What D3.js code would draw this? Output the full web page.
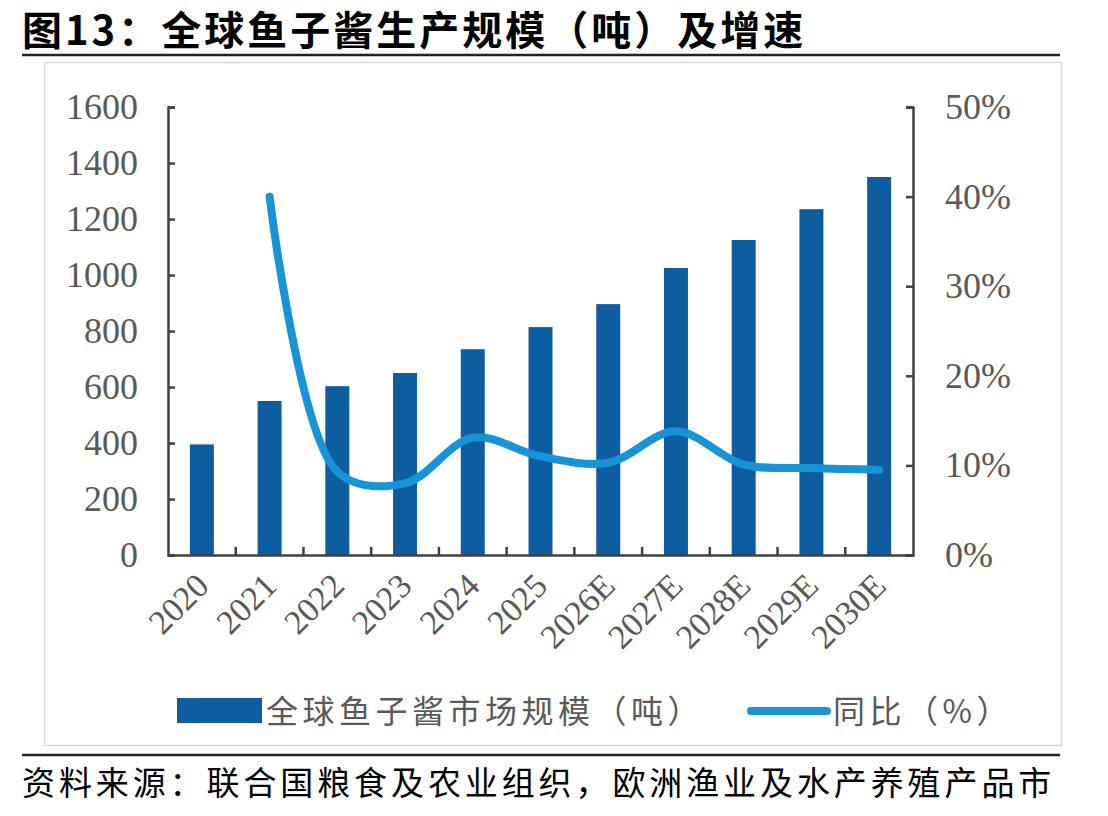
<!DOCTYPE html>
<html><head><meta charset="utf-8">
<script src="https://cdn.jsdelivr.net/npm/d3@7"></script>
<style>body{margin:0;background:#fff;} svg{display:block;}</style>
</head><body>
<script>
const categories = ["2020","2021","2022","2023","2024","2025","2026E","2027E","2028E","2029E","2030E"];
const marketSize = [395, 550, 603, 650, 735, 814, 896, 1025, 1125, 1235, 1350];
const yoyGrowth = [null, 40.0, 9.3, 8.0, 13.1, 11.0, 10.3, 13.8, 10.1, 9.7, 9.5];
const leftTicks = [0,200,400,600,800,1000,1200,1400,1600];
const rightTicks = [0,10,20,30,40,50];
const titleText = "图13：全球鱼子酱生产规模（吨）及增速";
const legendBar = "全球鱼子酱市场规模（吨）";
const legendLine = "同比（%）";
const sourceText = "资料来源：联合国粮食及农业组织，欧洲渔业及水产养殖产品市";

const W=1108,H=816;
const svg=d3.select("body").append("svg").attr("width",W).attr("height",H);
const plot={l:168,r:913,t:107,b:555};
const x=d3.scaleBand().domain(categories).range([plot.l,plot.r]).paddingInner(0).paddingOuter(0);
const yL=d3.scaleLinear().domain([0,1600]).range([plot.b,plot.t]);
const yR=d3.scaleLinear().domain([0,50]).range([plot.b,plot.t]);
const axisColor="#404040", textColor="#595959";
const barColor="#0f5da1", lineColor="#1793d8";
const serif="'Liberation Serif','Times New Roman',serif";
const cjk="'Noto Sans CJK SC',sans-serif";

// title
svg.append("text").attr("x",22).attr("y",45).attr("font-family",cjk).attr("font-weight",700)
  .attr("font-size",40).attr("letter-spacing",3).attr("fill","#000").text(titleText);
svg.append("line").attr("x1",22).attr("x2",1060).attr("y1",55).attr("y2",55).attr("stroke","#222").attr("stroke-width",2.5);
// frame
svg.append("rect").attr("x",44.5).attr("y",62.5).attr("width",1017).attr("height",683).attr("fill","none").attr("stroke","#d9d9d9").attr("stroke-width",1.5);
svg.append("line").attr("x1",22).attr("x2",1060).attr("y1",755).attr("y2",755).attr("stroke","#222").attr("stroke-width",2.5);
svg.append("text").attr("x",22).attr("y",795).attr("font-family",cjk).attr("font-size",33).attr("letter-spacing",3.9).attr("fill","#000").text(sourceText);

// bars
const bw=24;
svg.append("g").selectAll("rect").data(marketSize).join("rect")
  .attr("x",(d,i)=>x(categories[i])+x.bandwidth()/2-bw/2).attr("width",bw)
  .attr("y",d=>yL(d)).attr("height",d=>yL(0)-yL(d)).attr("fill",barColor);

// axes
const gL=svg.append("g").attr("transform",`translate(${plot.l},0)`)
  .call(d3.axisLeft(yL).tickValues(leftTicks).tickSize(-7).tickPadding(30).tickFormat(d3.format("d")));
const gR=svg.append("g").attr("transform",`translate(${plot.r},0)`)
  .call(d3.axisRight(yR).tickValues(rightTicks).tickSize(-7).tickPadding(32).tickFormat(d=>d+"%"));
const gX=svg.append("g").attr("transform",`translate(0,${plot.b})`)
  .call(d3.axisBottom(x).tickSize(0).tickFormat(""));
[gL,gR,gX].forEach(g=>{g.select(".domain").attr("stroke",axisColor).attr("stroke-width",2.5);
  g.selectAll(".tick line").attr("stroke",axisColor).attr("stroke-width",2.5);
  g.selectAll("text").attr("font-family",serif).attr("font-size",36).attr("fill",textColor);});
// category boundary ticks
svg.append("g").selectAll("line").data(categories.slice(1)).join("line")
  .attr("x1",d=>x(d)).attr("x2",d=>x(d)).attr("y1",plot.b).attr("y2",plot.b-8)
  .attr("stroke",axisColor).attr("stroke-width",2.5);
// x labels
svg.append("g").selectAll("text").data(categories).join("text")
  .attr("transform",d=>`translate(${x(d)+x.bandwidth()/2-8},${plot.b+16}) rotate(-45)`)
  .attr("text-anchor","end").attr("dy","0.7em").attr("font-family",serif).attr("font-size",34).attr("fill",textColor).text(d=>d);

// line
const pts=yoyGrowth.map((v,i)=>({c:categories[i],v})).filter(p=>p.v!=null);
svg.append("path").datum(pts).attr("fill","none").attr("stroke",lineColor).attr("stroke-width",8).attr("stroke-linecap","round")
  .attr("d",d3.line().x(p=>x(p.c)+x.bandwidth()/2).y(p=>yR(p.v)).curve(d3.curveCatmullRom.alpha(0.5)));

// legend
svg.append("rect").attr("x",177).attr("y",698).attr("width",85).attr("height",25).attr("fill",barColor);
svg.append("text").attr("x",266).attr("y",723).attr("font-family",cjk).attr("font-size",32).attr("letter-spacing",4.5).attr("fill",textColor).text(legendBar);
svg.append("line").attr("x1",751).attr("x2",827).attr("y1",711).attr("y2",711).attr("stroke",lineColor).attr("stroke-width",8).attr("stroke-linecap","round");
svg.append("text").attr("x",833).attr("y",723).attr("font-family",cjk).attr("font-size",32).attr("letter-spacing",4.5).attr("fill",textColor).text(legendLine);
</script>
</body></html>
